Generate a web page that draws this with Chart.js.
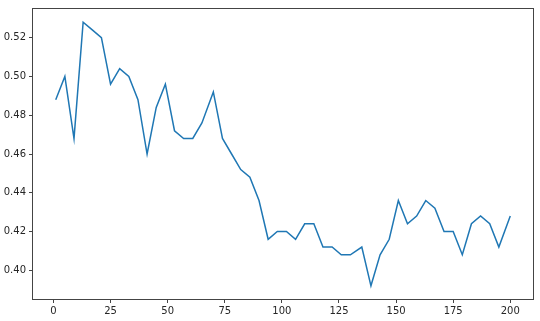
<!DOCTYPE html>
<html>
<head>
<meta charset="utf-8">
<script src="https://cdn.jsdelivr.net/npm/chart.js@4.4.0/dist/chart.umd.min.js"></script>
<style>
  html, body { margin: 0; padding: 0; background: #fff; }
  canvas { display: block; }
</style>
</head>
<body>
<canvas id="lineChart" width="540" height="321"></canvas>
<script>
// x positions (epoch) and values
const xValues = [1, 5, 9, 13, 17, 21, 25, 29, 33, 37, 41, 45, 49, 53, 57, 61, 65, 70, 74, 78,
                 82, 86, 90, 94, 98, 102, 106, 110, 114, 118, 122, 126, 130, 135, 139, 143, 147, 151, 155, 159,
                 163, 167, 171, 175, 179, 183, 187, 191, 195, 200];
const yValues = [0.488, 0.500, 0.468, 0.528, 0.524, 0.520, 0.496, 0.504, 0.500, 0.488,
                 0.460, 0.484, 0.496, 0.472, 0.468, 0.468, 0.476, 0.492, 0.468, 0.460,
                 0.452, 0.448, 0.436, 0.416, 0.420, 0.420, 0.416, 0.424, 0.424, 0.412,
                 0.412, 0.408, 0.408, 0.412, 0.392, 0.408, 0.416, 0.436, 0.424, 0.428,
                 0.436, 0.432, 0.420, 0.420, 0.408, 0.424, 0.428, 0.424, 0.412, 0.428];
const xTicks = [0, 25, 50, 75, 100, 125, 150, 175, 200];
const yTicks = [0.40, 0.42, 0.44, 0.46, 0.48, 0.50, 0.52];

const tickFont = { family: "DejaVu Sans", size: 10 };
const tickColor = "#262626";

// box round the plot area, like matplotlib spines
const frame = {
    id: "frame",
    afterDraw(chart) {
        const a = chart.chartArea, ctx = chart.ctx;
        ctx.save();
        ctx.strokeStyle = "#444";
        ctx.lineWidth = 1;
        ctx.strokeRect(a.left - 0.5, a.top - 0.5, a.right - a.left + 1, a.bottom - a.top + 1);
        ctx.restore();
    }
};

new Chart(document.getElementById("lineChart"), {
    type: "line",
    data: {
        datasets: [{
            data: xValues.map((x, i) => ({ x: x, y: yValues[i] })),
            borderColor: "#1f77b4",
            borderWidth: 1.5,
            pointRadius: 0,
            tension: 0,
            fill: false
        }]
    },
    options: {
        responsive: false,
        animation: false,
        layout: { padding: { left: 0, top: 7, right: 7, bottom: 0 } },
        plugins: { legend: { display: false }, tooltip: { enabled: false } },
        scales: {
            x: {
                type: "linear",
                min: -8.95,
                max: 209.95,
                afterBuildTicks: s => { s.ticks = xTicks.map(v => ({ value: v })); },
                afterFit: s => { s.height = 22; },
                grid: { drawOnChartArea: false, drawTicks: true, tickLength: 4, color: "#444" },
                border: { display: false },
                ticks: { font: tickFont, color: tickColor, padding: 2, maxRotation: 0 }
            },
            y: {
                type: "linear",
                min: 0.3852,
                max: 0.5348,
                afterBuildTicks: s => { s.ticks = yTicks.map(v => ({ value: v })); },
                afterFit: s => { s.width = 33; },
                grid: { drawOnChartArea: false, drawTicks: true, tickLength: 4, color: "#444" },
                border: { display: false },
                ticks: { font: tickFont, color: tickColor, padding: 3, callback: v => v.toFixed(2) }
            }
        }
    },
    plugins: [frame]
});
</script>
</body>
</html>
